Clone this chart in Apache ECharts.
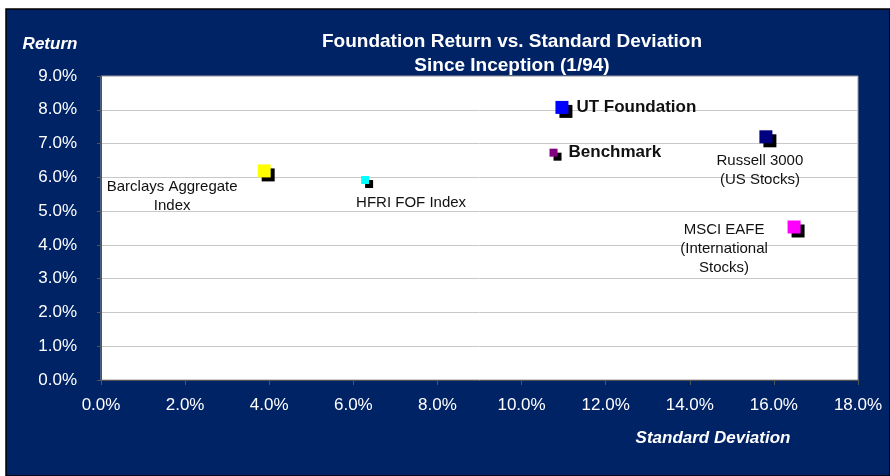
<!DOCTYPE html>
<html><head><meta charset="utf-8">
<script src="https://cdn.jsdelivr.net/npm/echarts@6/dist/echarts.min.js"></script>
<style>html,body{margin:0;padding:0;background:#fff}#c{width:890px;height:476px}</style>
</head><body><div id="c"></div>
<script>
const names = ['UT Foundation','Benchmark','Russell 3000\n(US Stocks)','MSCI EAFE\n(International\nStocks)','Barclays Aggregate\nIndex','HFRI FOF Index'];
const stdDev = [10.96, 10.76, 15.81, 16.48, 3.88, 6.28];
const returns = [8.07, 6.73, 7.2, 4.53, 6.19, 5.92];
const colors = ['#0000FF','#800080','#000080','#FF00FF','#FFFF00','#00FFFF'];
const sizes = [13, 8, 13, 13, 13, 8];
const xTicks = ['0.0%','2.0%','4.0%','6.0%','8.0%','10.0%','12.0%','14.0%','16.0%','18.0%'];
const yTicks = ['0.0%','1.0%','2.0%','3.0%','4.0%','5.0%','6.0%','7.0%','8.0%','9.0%'];
const titleText = 'Foundation Return vs. Standard Deviation\nSince Inception (1/94)';
const xName = 'Standard Deviation';
const yName = 'Return';

const labelStyles = [
  {position:'right', distance:8, fontSize:17, fontWeight:'bold'},
  {position:'right', distance:11, fontSize:17, fontWeight:'bold'},
  {position:'inside', offset:[-6,34], align:'center', lineHeight:19},
  {position:'inside', offset:[-70,22], align:'center', lineHeight:19},
  {position:'inside', offset:[-92,25], align:'center', lineHeight:19},
  {position:'inside', offset:[46,23], align:'center', lineHeight:19}
];

const FONT = 'Liberation Sans, Arial, sans-serif';
const series = names.map((n,i)=>({
  type:'scatter',
  name:n,
  symbol:'rect',
  symbolSize:sizes[i],
  data:[[stdDev[i], returns[i]]],
  itemStyle:{color:colors[i], shadowColor:'#000', shadowBlur:0, shadowOffsetX:4, shadowOffsetY:4, opacity:1},
  label:Object.assign({show:true, formatter:n, color:'#111', fontFamily:FONT, fontSize:15}, labelStyles[i]),
  emphasis:{disabled:true}
}));

const chart = echarts.init(document.getElementById('c'), null, {renderer:'canvas'});
chart.setOption({
  animation:false,
  backgroundColor:'#fff',
  graphic:[
    {type:'rect', shape:{x:6,y:9,width:884,height:467}, style:{fill:'#002366', stroke:'#000', lineWidth:1.5}, z:-10},
    {type:'text', x:713, y:438, style:{text:xName, fill:'#fff', font:'italic bold 17px '+FONT, textAlign:'center', textVerticalAlign:'middle'}},
    {type:'text', x:50, y:44, style:{text:yName, fill:'#fff', font:'italic bold 17px '+FONT, textAlign:'center', textVerticalAlign:'middle'}}
  ],
  title:{text:titleText, left:507, top:25, textAlign:'center',
    textStyle:{color:'#fff', fontFamily:FONT, fontSize:19, fontWeight:'bold', lineHeight:24}},
  grid:{left:101, right:32, top:76, bottom:96, show:true, backgroundColor:'#fff', borderColor:'#999', borderWidth:1, containLabel:false, outerBoundsMode:'none'},
  xAxis:{type:'value', min:0, max:18, interval:2,
    axisLine:{lineStyle:{color:'#555'}}, axisTick:{show:true, length:5, lineStyle:{color:'#555'}},
    splitLine:{show:false},
    axisLabel:{color:'#fff', fontFamily:FONT, fontSize:17, margin:17, formatter:(v)=>xTicks[Math.round(v/2)]}},
  yAxis:{type:'value', min:0, max:9, interval:1,
    axisLine:{show:true, lineStyle:{color:'#555'}}, axisTick:{show:true, length:4, lineStyle:{color:'#555'}},
    splitLine:{show:true, lineStyle:{color:'#c8c8c8'}},
    axisLabel:{color:'#fff', fontFamily:FONT, fontSize:17, margin:24, formatter:(v)=>yTicks[Math.round(v)]}},
  series:series
});
</script></body></html>
